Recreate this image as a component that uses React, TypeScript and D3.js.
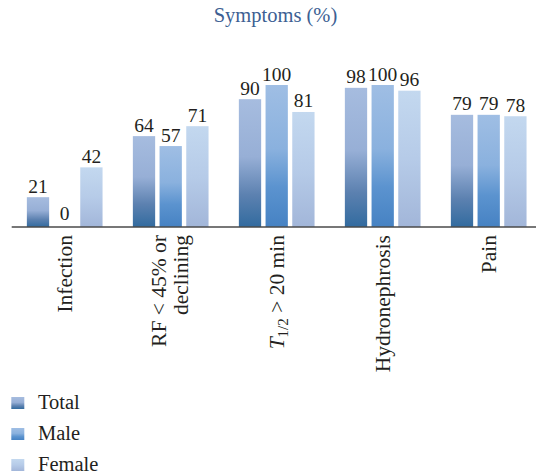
import * as d3 from "d3";

// data
const categories = ["Infection", "RF", "T12", "Hydronephrosis", "Pain"];
const seriesNames = ["Total", "Male", "Female"];
const totalValues = [21, 64, 90, 98, 79];
const maleValues = [0, 57, 100, 100, 79];
const femaleValues = [42, 71, 81, 96, 78];

const W = 536;
const H = 476;
const FONT = "'Liberation Serif', 'Times New Roman', serif";

// gradient stops per series (top -> bottom)
const gradients: Record<string, [number, string][]> = {
    Total: [[0, "#a6bcdf"], [0.45, "#97afd6"], [0.75, "#5c81b0"], [1, "#326b9f"]],
    Male: [[0, "#9fbee4"], [0.45, "#8ab1de"], [0.72, "#5b93cf"], [1, "#4682c3"]],
    Female: [[0, "#c3d8ef"], [0.5, "#b6cbe8"], [1, "#a2b6d9"]],
};

const CatLabel = ({cat, cx, y}: {cat: string; cx: number; y: number}) => {
    const tr = `translate(${cx},${y}) rotate(-90)`;
    const common = {fontFamily: FONT, fontSize: 21.5, fill: "#231f20", textAnchor: "end" as const};
    if (cat === "RF") {
        return (
            <text transform={tr} {...common}>
                <tspan x={0} y={-5}>RF &lt; 45% or</tspan>
                <tspan x={0} y={17}>declining</tspan>
            </text>
        );
    }
    if (cat === "T12") {
        return (
            <text transform={tr} y={7} {...common}>
                <tspan fontStyle="italic">T</tspan>
                <tspan fontSize={15} dy={4}>1/2</tspan>
                <tspan dy={-4}> &gt; 20 min</tspan>
            </text>
        );
    }
    return (
        <text transform={tr} y={7} {...common}>{cat}</text>
    );
};

const App = () => {
    const data = categories.map((c, i) => ({
        cat: c,
        vals: [totalValues[i], maleValues[i], femaleValues[i]],
    }));

    const baseY = 227;
    const x0 = d3.scaleBand<string>()
        .domain(categories)
        .range([11.7, 541.7])
        .paddingInner(0.286)
        .paddingOuter(0.143);
    const x1 = d3.scaleBand<string>()
        .domain(seriesNames)
        .range([0, x0.bandwidth()])
        .paddingInner(0.165);
    const y = d3.scaleLinear().domain([0, 100]).range([baseY, 85]);

    return (
        <svg width={W} height={H} style={{position: "absolute", left: 0, top: 0, background: "#fff"}}>
            <defs>
                {seriesNames.map(s => (
                    <linearGradient key={s} id={`g-${s}`} x1="0" y1="0" x2="0" y2="1">
                        {gradients[s].map(([o, c]) => (
                            <stop key={o} offset={o} stopColor={c} />
                        ))}
                    </linearGradient>
                ))}
            </defs>

            <text x={275.5} y={22} textAnchor="middle" fontFamily={FONT} fontSize={20.5} fill="#3d5f93">
                Symptoms (%)
            </text>

            {data.map(d => (
                <g key={d.cat} transform={`translate(${x0(d.cat)},0)`}>
                    {d.vals.map((v, j) => {
                        const s = seriesNames[j];
                        const bx = x1(s)!;
                        const top = y(v);
                        return (
                            <g key={s}>
                                {v > 0 && (
                                    <rect x={bx} y={top} width={x1.bandwidth()} height={baseY - top} fill={`url(#g-${s})`} />
                                )}
                                <text x={bx + x1.bandwidth() / 2} y={top - (v > 0 ? 4.5 : 7.5)} textAnchor="middle"
                                      fontFamily={FONT} fontSize={19.5} fill="#231f20">{v}</text>
                            </g>
                        );
                    })}
                </g>
            ))}

            <line x1={11.7} x2={W} y1={baseY} y2={baseY} stroke="#4a4a4a" strokeWidth={1.6} />

            {categories.map(c => (
                <CatLabel key={c} cat={c} cx={x0(c)! + x0.bandwidth() / 2} y={235} />
            ))}

            {seriesNames.map((s, i) => (
                <g key={s} transform={`translate(11.3,${397 + i * 31})`}>
                    <rect width={13} height={12} fill={`url(#g-${s})`} />
                    <text x={26.7} y={12} fontFamily={FONT} fontSize={20.5} fill="#231f20">{s}</text>
                </g>
            ))}
        </svg>
    );
};

export default App;
